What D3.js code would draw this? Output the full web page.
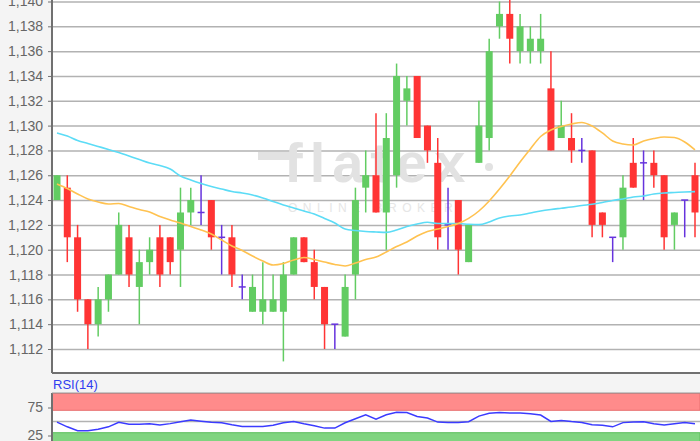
<!DOCTYPE html>
<html>
<head>
<meta charset="utf-8">
<script src="https://cdn.jsdelivr.net/npm/d3@7"></script>
<style>
  body { margin: 0; background: #f4f4f4; overflow: hidden; }
  svg { display: block; font-family: "Liberation Sans", Arial, sans-serif; }
</style>
</head>
<body>
<div id="chart"></div>
<script>
/* global d3 */

// Candles
const opens = [
  1.124,1.125,1.121,1.116,1.114,1.116,1.118,1.121,1.117,1.119,
  1.121,1.121,1.120,1.123,1.123,1.124,1.121,1.121,1.117,1.115,
  1.115,1.115,1.115,1.118,1.121,1.119,1.117,1.114,1.113,1.118,
  1.125,1.126,1.123,1.126,1.132,1.134,1.130,1.127,1.122,1.124,
  1.119,1.127,1.129,1.138,1.139,1.136,1.136,1.136,1.133,1.129,
  1.129,1.128,1.128,1.123,1.121,1.121,1.127,1.127,1.127,1.126,
  1.122,1.124,1.126]
const highs = [
  1.126,1.126,1.122,1.116,1.117,1.118,1.123,1.122,1.120,1.121,
  1.122,1.121,1.125,1.125,1.126,1.124,1.122,1.122,1.118,1.118,
  1.119,1.118,1.119,1.121,1.121,1.120,1.117,1.114,1.118,1.125,
  1.128,1.131,1.131,1.135,1.134,1.134,1.130,1.129,1.125,1.124,
  1.122,1.132,1.137,1.140,1.1402,1.139,1.138,1.139,1.136,1.132,
  1.131,1.129,1.128,1.123,1.121,1.126,1.129,1.128,1.128,1.126,
  1.123,1.124,1.127]
const lows = [
  1.124,1.119,1.115,1.112,1.113,1.115,1.118,1.117,1.114,1.118,
  1.117,1.118,1.117,1.122,1.122,1.120,1.118,1.117,1.116,1.115,
  1.114,1.115,1.111,1.118,1.119,1.116,1.112,1.112,1.113,1.116,
  1.123,1.123,1.120,1.125,1.130,1.129,1.127,1.120,1.120,1.118,
  1.119,1.127,1.128,1.137,1.135,1.135,1.135,1.135,1.128,1.129,
  1.127,1.127,1.121,1.121,1.119,1.120,1.125,1.124,1.125,1.120,
  1.120,1.121,1.121]
const closes = [
  1.126,1.121,1.116,1.114,1.116,1.118,1.122,1.118,1.119,1.120,
  1.118,1.119,1.123,1.124,1.123,1.121,1.121,1.118,1.117,1.117,
  1.116,1.116,1.118,1.121,1.119,1.117,1.114,1.114,1.117,1.124,
  1.126,1.123,1.129,1.134,1.133,1.129,1.128,1.121,1.122,1.120,
  1.122,1.130,1.136,1.139,1.137,1.138,1.137,1.137,1.128,1.130,
  1.128,1.128,1.122,1.122,1.121,1.125,1.125,1.127,1.126,1.121,
  1.123,1.124,1.123]

// moving averages
const maSlow = [
  1.12941,1.12916,1.12880,1.12856,1.12832,1.12808,1.12783,1.12755,1.12727,1.12699,
  1.12679,1.12650,1.12594,1.12562,1.12534,1.12509,1.12489,1.12469,1.12457,1.12441,
  1.12417,1.12389,1.12360,1.12336,1.12312,1.12288,1.12252,1.12215,1.12167,1.12155,
  1.12147,1.12143,1.12140,1.12159,1.12187,1.12207,1.12221,1.12211,1.12211,1.12211,
  1.12205,1.12202,1.12223,1.12256,1.12272,1.12280,1.12296,1.12312,1.12324,1.12334,
  1.12344,1.12356,1.12366,1.12380,1.12397,1.12409,1.12425,1.12433,1.12449,1.12457,
  1.12461,1.12465,1.12468]
const maFast = [
  1.12530,1.12493,1.12449,1.12409,1.12385,1.12368,1.12372,1.12348,1.12324,1.12304,
  1.12268,1.12240,1.12215,1.12187,1.12159,1.12127,1.12078,1.12030,1.11994,1.11949,
  1.11909,1.11877,1.11889,1.11917,1.11937,1.11921,1.11901,1.11881,1.11869,1.11893,
  1.11921,1.11941,1.11982,1.12026,1.12062,1.12111,1.12147,1.12167,1.12187,1.12211,
  1.12252,1.12312,1.12393,1.12489,1.12594,1.12707,1.12812,1.12912,1.12965,1.12993,
  1.13013,1.13025,1.12997,1.12941,1.12876,1.12852,1.12844,1.12876,1.12896,1.12908,
  1.12904,1.12868,1.12804]

// RSI(14)
const rsi = [
  48.9,40.5,33.7,33.4,36.1,40.5,48.6,45,45,45.9,
  43.6,46.2,49.5,52.5,50.4,48.6,47.7,44.1,41.1,41.1,
  41.1,43.2,47.7,50,45.9,42.3,38.2,38.2,47.7,54.8,
  62,54.3,62,66.6,66.1,58.9,56.1,48.9,48.2,48.2,
  49.5,59.6,64.6,66.1,65.2,65,63.8,61.6,50,51.8,
  49.8,48.4,44.1,43.2,40.5,48,48.9,49.5,45.9,43.6,
  45.9,48.2,45.9]

// ticks
const priceTicks = [1.112,1.114,1.116,1.118,1.120,1.122,1.124,1.126,1.128,1.130,1.132,1.134,1.136,1.138,1.140]
const priceLabels = ['1,112','1,114','1,116','1,118','1,120','1,122','1,124','1,126','1,128','1,130','1,132','1,134','1,136','1,138','1,140']
const rsiTicks = [25, 75]

// canvas
const width = 700, height = 441
const left = 52, right = 700, mainBottom = 373, rsiTop = 393

let svg = d3.select('#chart')
  .append('svg')
  .attr('width', width)
  .attr('height', height)

svg.append('rect').attr('width', width).attr('height', height).attr('fill', '#f4f4f4')
svg.append('rect').attr('x', left).attr('y', 0).attr('width', right - left).attr('height', mainBottom).attr('fill', '#fff')
svg.append('rect').attr('x', left).attr('y', rsiTop).attr('width', right - left).attr('height', height - rsiTop).attr('fill', '#fff')

// scales
const x = d3.scaleLinear().domain([0, opens.length - 1]).range([57, 695])
const y = d3.scaleLinear().domain([1.112, 1.140]).range([349, 1.5])
const yRsi = d3.scaleLinear().domain([0, 100]).range([449.5, 393.5])

// clip for the price panel
svg.append('clipPath').attr('id', 'clipMain')
  .append('rect').attr('x', left).attr('y', 0).attr('width', right - left).attr('height', mainBottom)

// gridlines
svg.append('g')
  .attr('transform', 'translate(' + left + ',0)')
  .call(d3.axisLeft(y).tickValues(priceTicks).tickSize(-(right - left)).tickFormat(''))
  .call(g => g.select('.domain').remove())
  .call(g => g.selectAll('line').attr('stroke', '#b2b2b2').attr('stroke-width', 1.5))

// watermark
let wm = svg.append('g').attr('fill', '#e2e2e2')
wm.append('rect').attr('x', 258).attr('y', 152).attr('width', 36).attr('height', 8)
wm.append('text')
  .attr('x', 284).attr('y', 182)
  .style('font-size', '56px').style('font-weight', 'bold').style('letter-spacing', '7px')
  .text('flatex')
wm.append('circle').attr('cx', 489).attr('cy', 167).attr('r', 4)
wm.append('text')
  .attr('x', 288).attr('y', 212)
  .style('font-size', '12px').style('letter-spacing', '5.5px')
  .attr('fill', '#e6e6e6')
  .text('ONLINE BROKER')

let plot = svg.append('g').attr('clip-path', 'url(#clipMain)')

const data = opens.map((o, i) => ({ i, o, h: highs[i], l: lows[i], c: closes[i] }))
const colour = d => d.c > d.o ? '#62cc62' : (d.c < d.o ? '#ff3434' : '#6633dd')

// wicks
plot.selectAll('line.wick')
  .data(data)
  .enter()
  .append('line')
  .attr('class', 'wick')
  .attr('x1', d => x(d.i)).attr('x2', d => x(d.i))
  .attr('y1', d => y(d.h)).attr('y2', d => y(d.l))
  .attr('stroke', colour)
  .attr('stroke-width', 1.5)

// bodies
plot.selectAll('rect.body')
  .data(data)
  .enter()
  .append('rect')
  .attr('class', 'body')
  .attr('x', d => x(d.i) - 3.5)
  .attr('width', 7)
  .attr('y', d => d.c === d.o ? y(d.o) - 0.75 : y(Math.max(d.o, d.c)))
  .attr('height', d => d.c === d.o ? 1.5 : Math.abs(y(d.o) - y(d.c)))
  .attr('fill', colour)

// moving averages
let line = d3.line().x((d, i) => x(i)).y(d => y(d)).curve(d3.curveMonotoneX)
plot.append('path').datum(maSlow).attr('d', line)
  .attr('fill', 'none').attr('stroke', '#5cdcf6').attr('stroke-width', 1.6)
plot.append('path').datum(maFast).attr('d', line)
  .attr('fill', 'none').attr('stroke', '#ffc250').attr('stroke-width', 1.6)

// price axis
svg.append('g')
  .attr('transform', 'translate(' + left + ',0)')
  .call(d3.axisLeft(y).tickValues(priceTicks).tickSize(4).tickPadding(5).tickFormat((d, i) => priceLabels[i]))
  .call(g => g.select('.domain').attr('d', 'M0,0V' + mainBottom).attr('stroke', '#707070').attr('stroke-width', 2))
  .call(g => g.selectAll('line').attr('stroke', '#707070'))
  .call(g => g.selectAll('text').attr('fill', '#666').style('font-size', '14px').style('font-family', '"Liberation Sans", Arial, sans-serif'))

svg.append('line')
  .attr('x1', left).attr('x2', right).attr('y1', mainBottom).attr('y2', mainBottom)
  .attr('stroke', '#707070').attr('stroke-width', 2)

// RSI panel
svg.append('rect')
  .attr('x', left).attr('y', yRsi(100)).attr('width', right - left).attr('height', yRsi(70) - yRsi(100))
  .attr('fill', '#ff8b8b').attr('stroke', '#e87070').attr('stroke-width', 1)
svg.append('rect')
  .attr('x', left).attr('y', yRsi(30)).attr('width', right - left).attr('height', yRsi(0) - yRsi(30))
  .attr('fill', '#80d480').attr('stroke', '#5cbf5c').attr('stroke-width', 1)
svg.append('line')
  .attr('x1', left).attr('x2', right).attr('y1', yRsi(50)).attr('y2', yRsi(50))
  .attr('stroke', '#b2b2b2').attr('stroke-width', 1.5)

svg.append('path').datum(rsi)
  .attr('d', d3.line().x((d, i) => x(i)).y(d => yRsi(d)))
  .attr('fill', 'none').attr('stroke', '#3b3bff').attr('stroke-width', 1.5)

svg.append('g')
  .attr('transform', 'translate(' + left + ',0)')
  .call(d3.axisLeft(yRsi).tickValues(rsiTicks).tickSize(4).tickPadding(5))
  .call(g => g.select('.domain').attr('d', 'M0,' + rsiTop + 'V' + height).attr('stroke', '#707070').attr('stroke-width', 2))
  .call(g => g.selectAll('line').attr('stroke', '#707070'))
  .call(g => g.selectAll('text').attr('fill', '#666').style('font-size', '14px').style('font-family', '"Liberation Sans", Arial, sans-serif'))

svg.append('line')
  .attr('x1', left).attr('x2', right).attr('y1', rsiTop).attr('y2', rsiTop)
  .attr('stroke', '#999').attr('stroke-width', 1)

svg.append('text')
  .attr('x', 53).attr('y', 389)
  .attr('fill', '#2f3df0')
  .style('font-size', '13px')
  .text('RSI(14)')
</script>
</body>
</html>
